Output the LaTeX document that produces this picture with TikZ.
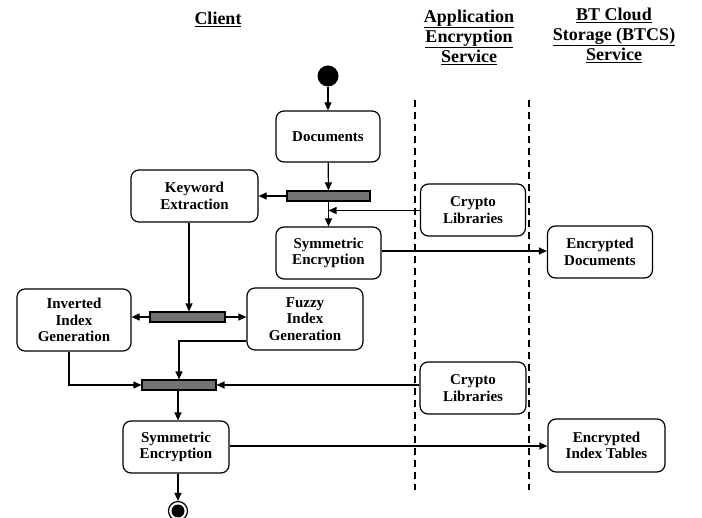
\documentclass[tikz,border=0pt]{standalone}
\usepackage{fontspec}
\setmainfont{Liberation Serif}
\usetikzlibrary{arrows.meta}
\begin{document}
\begin{tikzpicture}[x=1pt,y=-1pt,
  act/.style={draw,line width=1.2pt,rounded corners=8pt,fill=white,font=\bfseries\fontsize{15}{16.5}\selectfont,align=center,inner sep=0pt},
  bar/.style={draw,line width=1.1pt,fill=black!55,inner sep=0pt},
  title/.style={font=\bfseries\fontsize{18}{20}\selectfont,align=center},
  arr/.style={line width=1.2pt,-{Triangle[length=8pt,width=7pt]}},
  lane/.style={line width=1.5pt,dash pattern=on 7pt off 5pt}]
\useasboundingbox (0,0) rectangle (702,518);
% titles
\node[title] (tc) at (218,19) {\underline{Client}};
\node[title] (ta) at (469,37) {\underline{Application}\\\underline{Encryption}\\\underline{Service}};
\node[title] (tb) at (614,35) {\underline{BT Cloud}\\\underline{Storage (BTCS)}\\\underline{Service}};
% swimlanes
\coordinate (l1t) at (415,100); \coordinate (l1b) at (415,490);
\coordinate (l2t) at (529,100); \coordinate (l2b) at (529,490);
\draw[lane] (l1t) -- (l1b);
\draw[lane] (l2t) -- (l2b);
% start
\node[circle,fill=black,minimum size=21pt,inner sep=0pt] (start) at (328,76) {};
% activities
\node[act,minimum width=104pt,minimum height=51pt] (doc) at (328,136.5) {Documents};
\node[bar,minimum width=83pt,minimum height=10pt] (b1) at (328.5,196) {};
\node[act,minimum width=127pt,minimum height=52pt] (kw) at (194.5,196) {Keyword\\Extraction};
\node[act,minimum width=105pt,minimum height=52pt] (cl1) at (473,210) {Crypto\\Libraries};
\node[act,minimum width=105pt,minimum height=52pt] (se1) at (328.5,253) {Symmetric\\Encryption};
\node[act,minimum width=105pt,minimum height=52pt] (ed) at (600,252) {Encrypted\\Documents};
\node[bar,minimum width=75pt,minimum height=10pt] (b2) at (187.5,317) {};
\node[act,minimum width=114pt,minimum height=62pt] (inv) at (74,320) {Inverted\\Index\\Generation};
\node[act,minimum width=116pt,minimum height=62pt] (fz) at (305,319) {Fuzzy\\Index\\Generation};
\node[bar,minimum width=74pt,minimum height=10pt] (b3) at (179,385) {};
\node[act,minimum width=106pt,minimum height=52pt] (cl2) at (473,388) {Crypto\\Libraries};
\node[act,minimum width=106pt,minimum height=52pt] (se2) at (176,447) {Symmetric\\Encryption};
\node[act,minimum width=117pt,minimum height=53pt] (eit) at (606.5,445.5) {Encrypted\\Index Tables};
% end
\node[circle,draw,line width=1.2pt,fill=white,minimum size=19pt,inner sep=0pt] (end) at (178,511) {};
\node[circle,fill=black,minimum size=13pt,inner sep=0pt] (endin) at (end.center) {};
% connectors
\draw[arr] (start) -- (doc);
\draw[arr] (doc) -- (b1);
\draw[arr] (b1.west) -- (kw.east);
\coordinate (j1) at (328.5,210.5);
\draw[arr] (cl1.west |- j1) -- (j1);
\draw[arr] (b1) -- (se1);
\draw[arr] (se1.east |- 0,251) -- (ed.west |- 0,251);
\draw[arr] (kw.south -| 189,0) -- (b2.north -| 189,0);
\draw[arr] (b2.west) -- (inv.east |- b2.west);
\draw[arr] (b2.east) -- (fz.west |- b2.east);
\draw[arr] (fz.west |- 0,341) -| (b3.north -| 179,0);
\draw[arr] (inv.south -| 69,0) |- (b3.west);
\draw[arr] (cl2.west |- b3.east) -- (b3.east);
\draw[arr] (b3.south -| 178,0) -- (se2.north -| 178,0);
\draw[arr] (se2.east |- 0,446) -- (eit.west |- 0,446);
\draw[arr] (se2.south -| 178,0) -- (end);
\end{tikzpicture}
\end{document}
